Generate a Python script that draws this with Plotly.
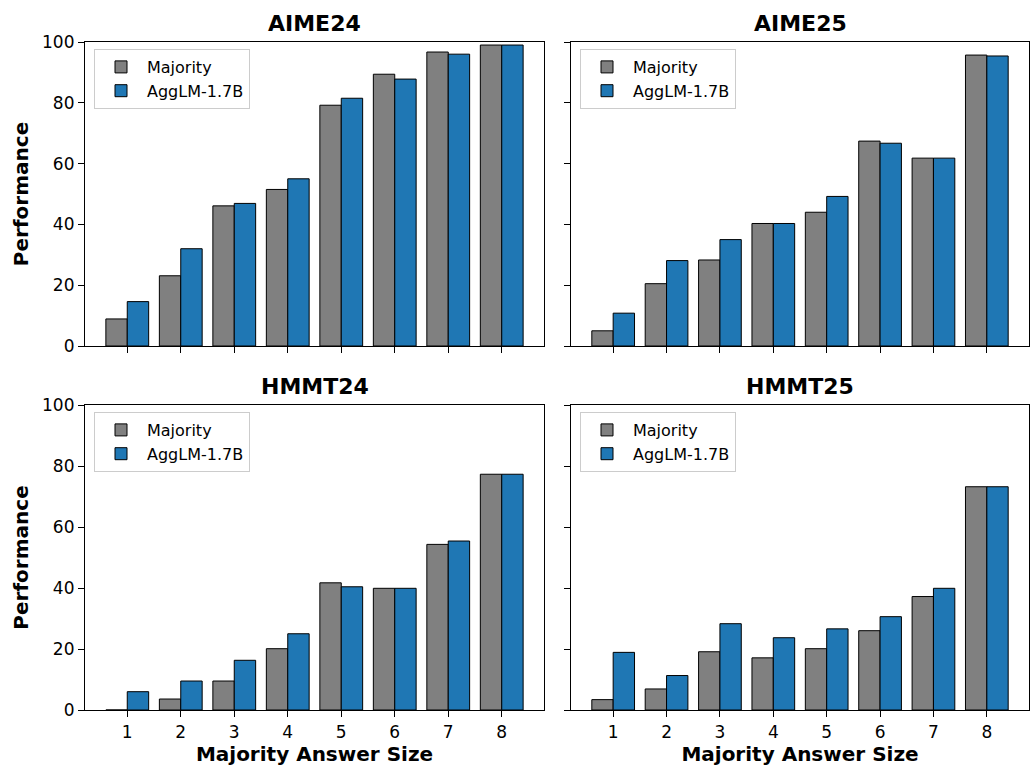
import plotly.graph_objects as go

sizes = [1, 2, 3, 4, 5, 6, 7, 8]
titles = ["AIME24", "AIME25", "HMMT24", "HMMT25"]

aime24_majority = [8.9, 23.1, 46.1, 51.5, 79.2, 89.4, 96.7, 99.0]
aime24_agglm = [14.6, 32.0, 46.9, 55.0, 81.5, 87.8, 96.0, 99.0]
aime25_majority = [5.0, 20.5, 28.3, 40.3, 44.0, 67.4, 61.8, 95.7]
aime25_agglm = [10.8, 28.1, 35.0, 40.3, 49.2, 66.7, 61.8, 95.4]
hmmt24_majority = [0.0, 3.6, 9.5, 20.1, 41.7, 39.9, 54.3, 77.3]
hmmt24_agglm = [6.0, 9.5, 16.3, 25.0, 40.4, 39.9, 55.4, 77.3]
hmmt25_majority = [3.4, 6.9, 19.1, 17.1, 20.1, 26.0, 37.2, 73.2]
hmmt25_agglm = [18.9, 11.3, 28.3, 23.7, 26.6, 30.6, 39.9, 73.2]

majority = [aime24_majority, aime25_majority, hmmt24_majority, hmmt25_majority]
agglm = [aime24_agglm, aime25_agglm, hmmt24_agglm, hmmt25_agglm]

W, H = 1036, 773
FONT = "DejaVu Sans"
x_domains = [[85 / W, 544 / W], [571 / W, 1029 / W]]
y_domains = [[1 - 346 / H, 1 - 42 / H], [1 - 710 / H, 1 - 405 / H]]

fig = go.Figure()
layout = dict(
    width=W, height=H, autosize=False, margin=dict(l=0, r=0, t=0, b=0, pad=0, autoexpand=False),
    paper_bgcolor="white", plot_bgcolor="white",
    barmode="overlay", font=dict(family=FONT, size=17, color="black"),
    showlegend=True,
)
annotations = []
for i in range(4):
    r, c = divmod(i, 2)
    ax = "" if i == 0 else str(i + 1)
    leg = "legend" if i == 0 else f"legend{i + 1}"
    fig.add_trace(go.Bar(
        x=sizes, y=majority[i], name="Majority", offset=-0.4, width=0.4,
        marker=dict(color="#808080", line=dict(color="black", width=1)),
        xaxis="x" + ax, yaxis="y" + ax, legend=leg,
    ))
    fig.add_trace(go.Bar(
        x=sizes, y=agglm[i], name="AggLM-1.7B", offset=0.0, width=0.4,
        marker=dict(color="#1f77b4", line=dict(color="black", width=1)),
        xaxis="x" + ax, yaxis="y" + ax, legend=leg,
    ))
    layout["xaxis" + ax] = dict(
        domain=x_domains[c], anchor="y" + ax, range=[0.21, 8.79], automargin=False,
        tickmode="array", tickvals=sizes, ticktext=[str(s) for s in sizes],
        showticklabels=(r == 1), ticks="outside", ticklen=6, tickcolor="black",
        showline=True, linecolor="black", linewidth=1.2, mirror=True,
        showgrid=False, zeroline=False, tickfont=dict(size=17),
        title=dict(text="<b>Majority Answer Size</b>", font=dict(size=20), standoff=6) if r == 1 else None,
    )
    layout["yaxis" + ax] = dict(
        domain=y_domains[r], anchor="x" + ax, range=[0, 100], automargin=False,
        tickmode="array", tickvals=[0, 20, 40, 60, 80, 100],
        showticklabels=(c == 0), ticks="outside", ticklen=6, tickcolor="black",
        showline=True, linecolor="black", linewidth=1.2, mirror=True,
        showgrid=False, zeroline=False, tickfont=dict(size=17),
        title=dict(text="<b>Performance</b>", font=dict(size=20), standoff=8) if c == 0 else None,
    )
    layout[leg] = dict(
        x=x_domains[c][0] + 9 / W, y=y_domains[r][1] - 7 / H,
        xanchor="left", yanchor="top",
        bgcolor="rgba(255,255,255,0.8)", bordercolor="#cccccc", borderwidth=1,
        font=dict(size=16), tracegroupgap=0, itemwidth=42,
    )
    annotations.append(dict(
        text=f"<b>{titles[i]}</b>", x=sum(x_domains[c]) / 2, y=y_domains[r][1],
        xref="paper", yref="paper", xanchor="center", yanchor="bottom",
        showarrow=False, font=dict(size=22), yshift=4,
    ))
layout["annotations"] = annotations
fig.update_layout(**layout)
fig.write_html(
    "out.html",
    config={"displayModeBar": False},
    post_script="document.body.style.margin='0';document.body.style.overflow='hidden';",
)
